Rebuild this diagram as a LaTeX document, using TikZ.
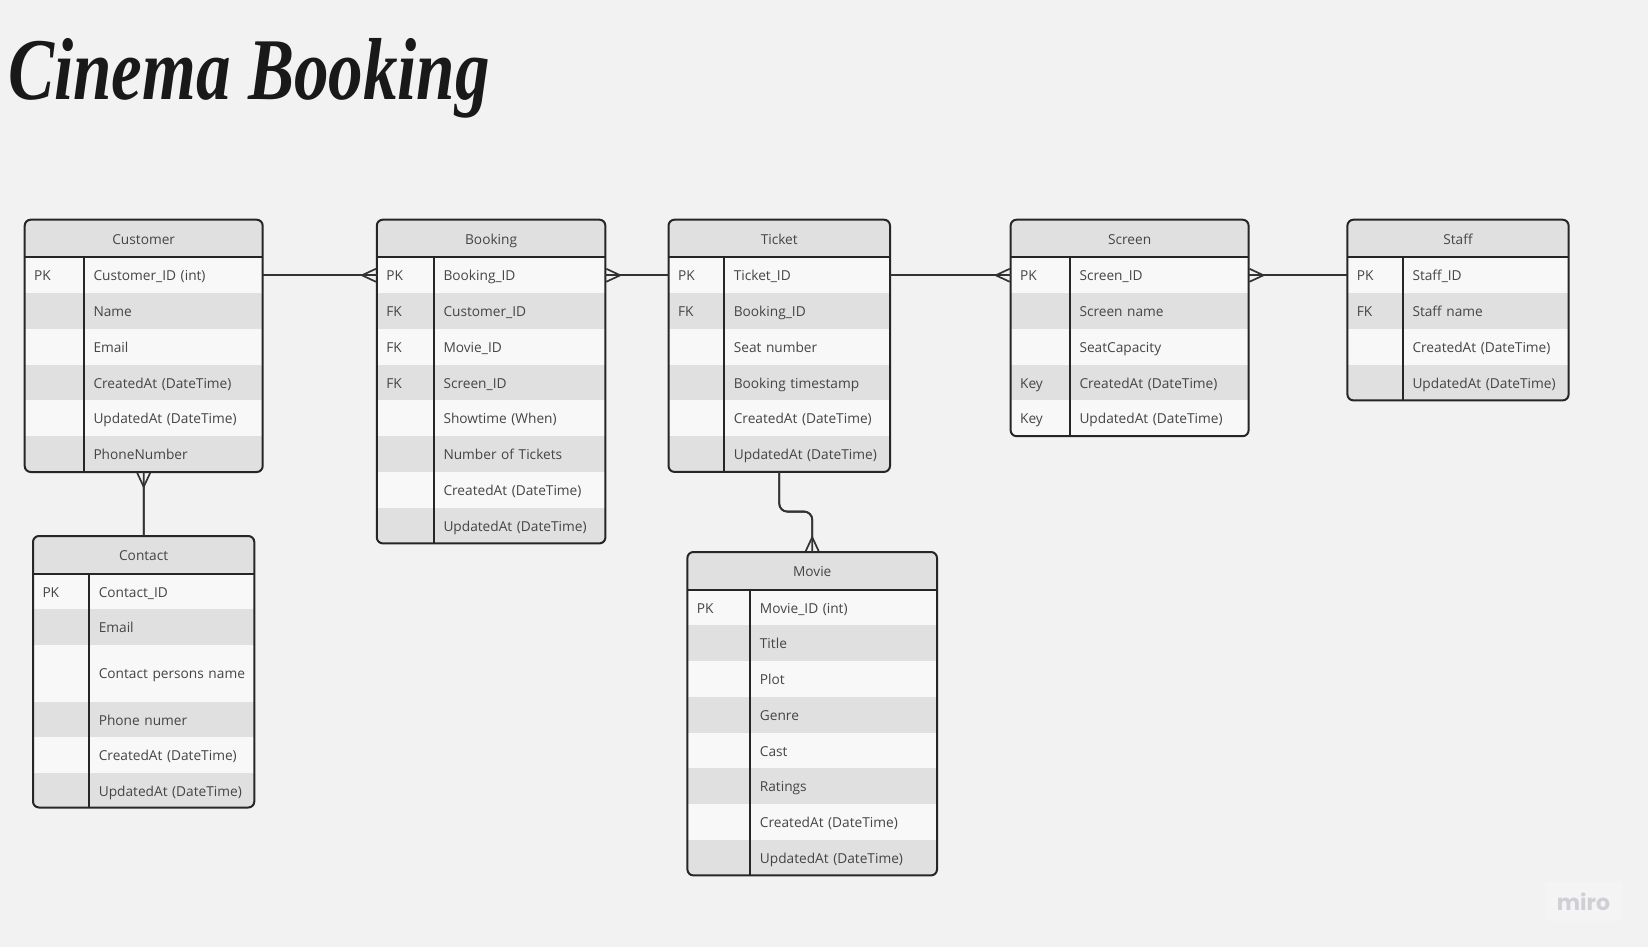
\documentclass[tikz,border=0pt]{standalone}
\usepackage{fontspec}
\setmainfont{Open Sans}
\newfontfamily\titlefont[FakeStretch=0.785]{Liberation Serif}
\newfontfamily\logofont{Poppins}
\usetikzlibrary{positioning,arrows.meta}

\definecolor{pagebg}{HTML}{F2F2F2}
\definecolor{logobg}{HTML}{F4F4F4}
\definecolor{logotext}{HTML}{CFCFD6}
\definecolor{banddark}{HTML}{E0E0E0}
\definecolor{bandlight}{HTML}{F8F8F8}
\definecolor{inktext}{HTML}{454545}
\definecolor{inkline}{HTML}{262626}
\definecolor{inkconn}{HTML}{333333}

\tikzset{
    cell/.style={inner xsep=9.5, inner ysep=0, outer sep=0, text=inktext, text height=14, text depth=3,
        font=\fontsize{13.7}{17}\selectfont},
    rowa/.style={cell, fill=bandlight, minimum height=35.75},
    rowb/.style={cell, fill=banddark, minimum height=35.75},
    rowtall/.style={cell, fill=bandlight, minimum height=56.5},
    tablebox/.style={inner sep=0, outer sep=0},
    tableline/.style={line width=2, draw=inkline},
    connector/.style={line width=1.8, draw=inkconn, postaction={draw, -},
        >={Straight Barb[length=14, width=13, reversed, line width=1.7]}}
}

% name, x, y, width, height, key column width, title, rows
\newcommand{\ertable}[8]{
    \node[tablebox, anchor=north west, minimum width=#4, minimum height=#5] (#1) at (#2,#3) {};
    \begin{scope}
        \clip[rounded corners=6] (#1.north west) rectangle (#1.south east);
        \node[cell, fill=banddark, anchor=north west, align=center, inner xsep=0, minimum width=#4, minimum height=37.7,
            alias=#1k0] (#1h) at (#2,#3) {#7};
        \foreach \key/\field/\band [count=\i, remember=\i as \prev (initially 0)] in {#8} {
            \node[\band, anchor=north west, minimum width=#6, text width=#6-19] (#1k\i) at (#1k\prev.south west) {\mbox{\key}};
            \node[\band, right=0 of #1k\i, minimum width=#4-#6, text width=#4-#6-19] (#1f\i) {\mbox{\field}};
        }
    \end{scope}
    \draw[tableline] (#1h.south west) -- (#1h.south east);
    \draw[tableline] (#1k1.north east) -- (#1k1.north east |- #1.south);
    \draw[tableline, rounded corners=6] (#1.north west) rectangle (#1.south east);
}

\begin{document}
\begin{tikzpicture}[x=1pt, y=-1pt]
    \useasboundingbox (0,0) rectangle (1648,947);
    \fill[pagebg] (0,0) rectangle (1648,947);

    % Title and watermark
    \node[inner sep=0, anchor=base west, text=black!90, font=\titlefont\bfseries\itshape\fontsize{88}{90}\selectfont] (title) at (8,100) {Cinema Booking};
    \node[fill=logobg, text=logotext, inner sep=0, minimum width=77, minimum height=39, font=\logofont\bfseries\fontsize{22}{25}\selectfont] (miro) at (1583.5,901.5) {miro};

    % Table for customer
    \ertable{customer}{24.7}{219.7}{238}{252.3}{59.3}{Customer}{
        PK/Customer\_ID (int)/rowa, /Name/rowb, /Email/rowa,
        /CreatedAt (DateTime)/rowb, /UpdatedAt (DateTime)/rowa, /PhoneNumber/rowb}

    % Table for booking
    \ertable{booking}{376.8}{219.7}{228.6}{323.7}{57.2}{Booking}{
        PK/Booking\_ID/rowa, FK/Customer\_ID/rowb, FK/Movie\_ID/rowa, FK/Screen\_ID/rowb,
        /Showtime (When)/rowa, /Number of Tickets/rowb, /CreatedAt (DateTime)/rowa, /UpdatedAt (DateTime)/rowb}

    % Table for ticket
    \ertable{ticket}{668.5}{219.7}{221.5}{252.2}{55.8}{Ticket}{
        PK/Ticket\_ID/rowa, FK/Booking\_ID/rowb, /Seat number/rowa,
        /Booking timestamp/rowb, /CreatedAt (DateTime)/rowa, /UpdatedAt (DateTime)/rowb}

    % Table for screen
    \ertable{screen}{1010.6}{219.7}{238}{216.5}{59.4}{Screen}{
        PK/Screen\_ID/rowa, /Screen name/rowb, /SeatCapacity/rowa,
        Key/CreatedAt (DateTime)/rowb, Key/UpdatedAt (DateTime)/rowa}

    % Table for staff
    \ertable{staff}{1347.4}{219.7}{221.2}{180.7}{55.6}{Staff}{
        PK/Staff\_ID/rowa, FK/Staff name/rowb, /CreatedAt (DateTime)/rowa, /UpdatedAt (DateTime)/rowb}

    % Table for contact
    \ertable{contact}{33}{536}{221.3}{271.5}{56.3}{Contact}{
        PK/Contact\_ID/rowa, /Email/rowb, /Contact persons name/rowtall,
        /Phone numer/rowb, /CreatedAt (DateTime)/rowa, /UpdatedAt (DateTime)/rowb}

    % Table for movie
    \ertable{movie}{687.4}{552}{249.6}{323.4}{63}{Movie}{
        PK/Movie\_ID (int)/rowa, /Title/rowb, /Plot/rowa, /Genre/rowb,
        /Cast/rowa, /Ratings/rowb, /CreatedAt (DateTime)/rowa, /UpdatedAt (DateTime)/rowb}

    % Connectors
    \draw[connector, ->] (customerf1.east) -- (bookingk1.west);
    \draw[connector, ->] (ticketk1.west) -- (bookingf1.east);
    \draw[connector, ->] (ticketf1.east) -- (screenk1.west);
    \draw[connector, ->] (staffk1.west) -- (screenf1.east);
    \draw[connector, ->] (contact.north) -- (customer.south);
    \draw[connector, ->, rounded corners=8] (ticket.south) -- ++(0,39.7) -| (movie.north);
\end{tikzpicture}
\end{document}
